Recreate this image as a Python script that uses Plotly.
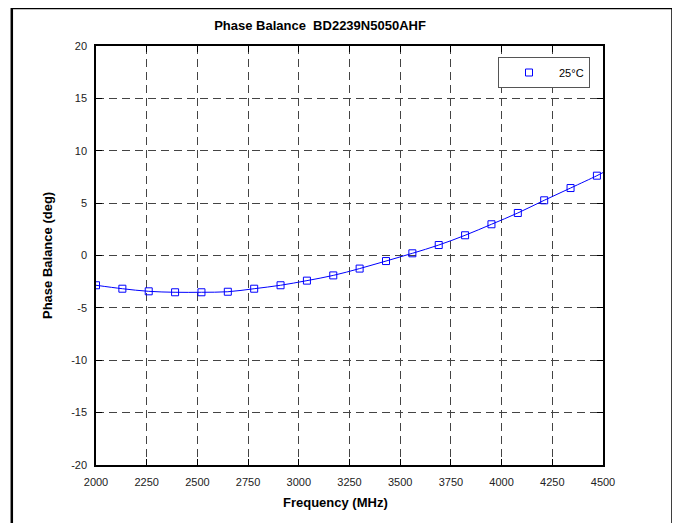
import plotly.graph_objects as go

# Data
freq_mhz = [2000, 2130, 2260, 2390, 2520, 2650, 2780, 2910, 3040, 3170,
            3300, 3430, 3560, 3690, 3820, 3950, 4080, 4210, 4340, 4470]
phase_deg = [-2.84, -3.17, -3.42, -3.51, -3.51, -3.46, -3.17, -2.84, -2.40, -1.90,
             -1.25, -0.53, 0.21, 1.00, 1.93, 2.98, 4.06, 5.27, 6.44, 7.62]
line_end_freq = 4500
line_end_phase = 7.92

series_name = "25°C"
title_text = "Phase Balance \u00a0BD2239N5050AHF"
x_title = "Frequency (MHz)"
y_title = "Phase Balance (deg)"
x_ticks = [2000, 2250, 2500, 2750, 3000, 3250, 3500, 3750, 4000, 4250, 4500]
y_ticks = [-20, -15, -10, -5, 0, 5, 10, 15, 20]

# page body has an 8px margin; lay out in reference pixels minus that offset
OFF = 8
W, H = 680 - OFF, 523 - OFF
L, R, T, B = 96 - OFF, 603 - OFF, 46 - OFF, 465 - OFF

def px_x(p):
    return (p - OFF - L) / (R - L)

def px_y(p):
    return (B - (p - OFF)) / (B - T)

FONT = "Liberation Sans, Arial, sans-serif"
BLUE = "#0000ff"

fig = go.Figure()
fig.add_trace(go.Scatter(
    x=freq_mhz + [line_end_freq], y=phase_deg + [line_end_phase],
    mode="lines", line=dict(color=BLUE, width=1, shape="spline"),
    showlegend=False, hoverinfo="skip"))
fig.add_trace(go.Scatter(
    x=freq_mhz, y=phase_deg, mode="markers", name=series_name,
    marker=dict(symbol="square-open", size=7, color=BLUE, line=dict(width=1, color=BLUE))))

axis_common = dict(
    showgrid=True, gridcolor="#444444", gridwidth=1, griddash="8px,5px",
    showline=True, linecolor="black", linewidth=1.5, mirror="ticks",
    ticks="inside", ticklen=6, tickwidth=1, tickcolor="black",
    zeroline=False, tickfont=dict(family=FONT, size=11, color="#222222"),
)
fig.update_xaxes(range=[2000, 4500], tickvals=x_ticks, ticktext=[str(v) for v in x_ticks],
                 ticklabelstandoff=6, **axis_common)
fig.update_yaxes(range=[-20, 20], tickvals=y_ticks, ticktext=[str(v) for v in y_ticks],
                 ticklabelstandoff=5, **axis_common)

fig.update_layout(
    width=W, height=H, autosize=False,
    margin=dict(l=L, r=W - R, t=T, b=H - B, pad=0),
    paper_bgcolor="white", plot_bgcolor="white",
    font=dict(family=FONT, size=11, color="black"),
    title=dict(text="<b>" + title_text + "</b>", font=dict(family=FONT, size=13, color="black"),
               x=px_x(320), xref="paper", xanchor="center",
               y=1 - (25 - OFF) / H, yref="container", yanchor="middle"),
    legend=dict(x=px_x(498), y=px_y(57), xanchor="left", yanchor="top",
                bgcolor="white", bordercolor="#555555", borderwidth=1,
                itemwidth=50, font=dict(family=FONT, size=11, color="black")),
    showlegend=True,
)

fig.add_annotation(text="<b>" + x_title + "</b>", x=px_x(335), y=px_y(503),
                   xref="paper", yref="paper", showarrow=False,
                   font=dict(family=FONT, size=13, color="black"),
                   xanchor="center", yanchor="middle")
fig.add_annotation(text="<b>" + y_title + "</b>", x=px_x(47), y=px_y(256),
                   xref="paper", yref="paper", showarrow=False, textangle=-90,
                   font=dict(family=FONT, size=13, color="black"),
                   xanchor="center", yanchor="middle")

# outer frame
fig.add_shape(type="rect", xref="paper", yref="paper",
              x0=px_x(11.8), x1=px_x(672.5), y0=px_y(540), y1=px_y(8),
              line=dict(color="black", width=2.5), fillcolor="rgba(0,0,0,0)", layer="above")

fig.write_html("out.html")
